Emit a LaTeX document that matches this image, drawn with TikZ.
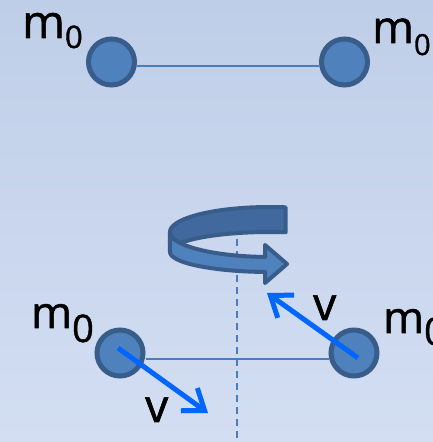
\documentclass[tikz,border=0pt]{standalone}
\usepackage{fontspec}
\setmainfont{Open Sans}
\newfontfamily\lblfont{Open Sans}[FakeBold=1.2]
\usetikzlibrary{arrows.meta}
\definecolor{bgtop}{HTML}{BFCEE8}
\definecolor{bgbot}{HTML}{D3DEF2}
\definecolor{ballfill}{HTML}{4F81BD}
\definecolor{ballline}{HTML}{385D8A}
\definecolor{rodcol}{HTML}{4A7EBB}
\definecolor{backcol}{HTML}{41699E}
\definecolor{velcol}{HTML}{0066FF}
\tikzset{
  ball/.style={circle, draw=ballline, fill=ballfill, line width=5pt, minimum size=46pt, inner sep=0pt},
  rod/.style={draw=rodcol, line width=1.5pt},
  axisline/.style={draw=rodcol, line width=1.5pt, dash pattern=on 7pt off 5pt},
  vel/.style={draw=velcol, line width=5pt, -{Straight Barb[length=19pt,width=28pt]}},
  lbl/.style={inner sep=0pt, anchor=base west, text=black, font=\lblfont},
  bandback/.style={fill=backcol, draw=ballline, line width=4pt, line join=round},
  bandfront/.style={fill=ballfill, draw=ballline, line width=4pt, line join=round}
}
\begin{document}
\begin{tikzpicture}[x=1pt,y=1pt]
\useasboundingbox (0,0) rectangle (433,442);
\shade[top color=bgtop, bottom color=bgbot] (0,0) rectangle (433,442);
% top pair
\node[ball] (TL) at (111.5,380) {};
\node[ball] (TR) at (344.5,380) {};
\draw[rod] ([yshift=-4pt]TL.east) -- ([yshift=-4pt]TR.west);
\node[lbl] (mTL) at (22,404) {\fontsize{46}{46}\selectfont m\raisebox{-10pt}{\fontsize{31}{31}\selectfont 0}};
\node[lbl] (mTR) at (372,399) {\fontsize{45}{45}\selectfont m\raisebox{-12pt}{\fontsize{29}{29}\selectfont 0}};
% axis
\coordinate (axtop) at (237,215);
\coordinate (axbot) at (237,0);
\draw[axisline] (axtop) -- (axbot);
% rotation arrow
\path[bandback] (285.64,234.69) arc[start angle=81,end angle=180,x radius=100,y radius=25]
  -- (170,190) arc[start angle=180,end angle=81,x radius=100,y radius=20] -- cycle;
\path[bandfront] (170,210) arc[start angle=180,end angle=266,x radius=100,y radius=25]
  -- (265,185.06) -- (265,197) -- (287,178) -- (265,159) -- (265,170.05) -- (263.02,170.05)
  arc[start angle=266,end angle=180,x radius=100,y radius=20] -- cycle;
% bottom pair
\node[ball] (BL) at (120,89) {};
\node[ball] (BR) at (354,89) {};
\draw[rod] ([yshift=-6pt]BL.east) -- ([yshift=-6pt]BR.west);
\node[lbl] (mBL) at (31,114) {\fontsize{44}{44}\selectfont m\raisebox{-14pt}{\fontsize{38}{38}\selectfont 0}};
\node[lbl] (mBR) at (383,109) {\fontsize{44}{44}\selectfont m\raisebox{-12pt}{\fontsize{38}{38}\selectfont 0}};
% velocities
\coordinate (vLtip) at (208,29);
\coordinate (vRtip) at (267,149);
\draw[vel] ([shift={(-2pt,5pt)}]BL.center) -- (vLtip);
\draw[vel] ([shift={(4pt,-5pt)}]BR.center) -- (vRtip);
\node[lbl] (vL) at (145,20) {\fontsize{46}{46}\selectfont v};
\node[lbl] (vR) at (313,122) {\fontsize{46}{46}\selectfont v};
\end{tikzpicture}
\end{document}
